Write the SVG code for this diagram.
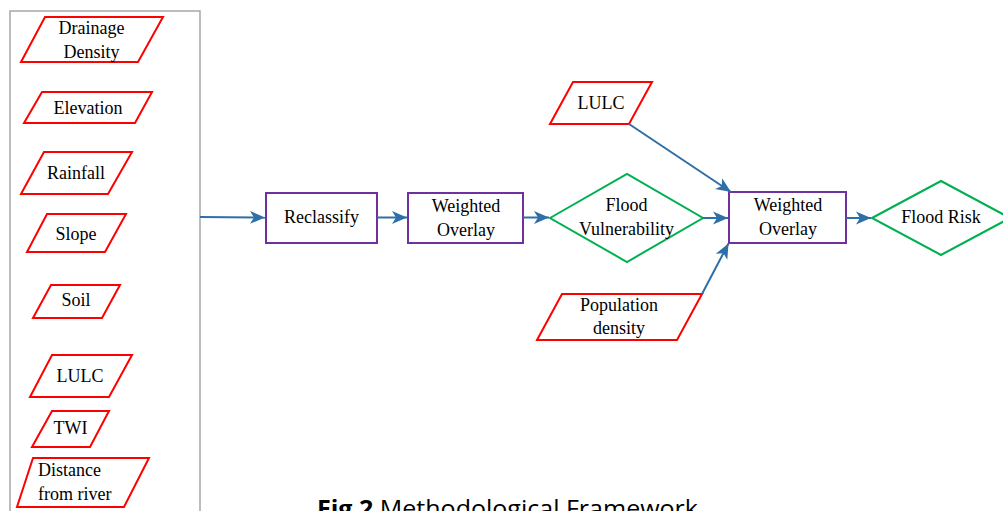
<svg xmlns="http://www.w3.org/2000/svg" width="1003" height="511" viewBox="0 0 1003 511">
<style>
.in{fill:#fff;stroke:#ff0000;stroke-width:2;stroke-linejoin:miter}
.pr{fill:#fff;stroke:#7030a0;stroke-width:2}
.dm{fill:#fff;stroke:#00b050;stroke-width:2}
.t{font-family:"Liberation Serif","Times New Roman",serif;font-size:18px;fill:#000;text-anchor:middle}
.tl{text-anchor:start}
.c{fill:none;stroke:#2e6fa7;stroke-width:2}
</style>
<defs>
<marker id="ah" markerUnits="userSpaceOnUse" viewBox="0 0 15 14" refX="15" refY="7" markerWidth="15" markerHeight="14" orient="auto">
<path d="M0,0.5 L15,7 L0,13.5 L4,7 Z" fill="#2e6fa7"/>
</marker>
</defs>
<rect width="1003" height="511" fill="#fff"/>
<g id="inputs-box">
<rect x="10" y="11" width="190" height="520" fill="none" stroke="#a6a6a6" stroke-width="1.5"/>
</g>
<g id="drainage"><polygon class="in" points="45,17 163,17 138,62 21,62"/><text class="t" x="91.5" y="33.5">Drainage</text><text class="t" x="91.5" y="58">Density</text></g>
<g id="elevation"><polygon class="in" points="42,92 152,92 135,123 24,123"/><text class="t" x="88" y="113.5">Elevation</text></g>
<g id="rainfall"><polygon class="in" points="44,152 132,152 108,194 21,194"/><text class="t" x="76" y="178.5">Rainfall</text></g>
<g id="slope"><polygon class="in" points="47,214 126,214 105,252 27,252"/><text class="t" x="76" y="239.5">Slope</text></g>
<g id="soil"><polygon class="in" points="51,285 120,285 102,318 33,318"/><text class="t" x="76" y="305.5">Soil</text></g>
<g id="lulc-left"><polygon class="in" points="52,355 132,355 109,397 30,397"/><text class="t" x="80" y="381.5">LULC</text></g>
<g id="twi"><polygon class="in" points="52,411 109,411 90,447 32,447"/><text class="t" x="70.5" y="434">TWI</text></g>
<g id="distance"><polygon class="in" points="33,458 149,458 124,507 17,507"/><text class="t tl" x="38" y="475.5">Distance</text><text class="t tl" x="38" y="500">from river</text></g>
<g id="reclassify"><rect class="pr" x="266" y="193" width="111" height="50"/><text class="t" x="321.5" y="223">Reclassify</text></g>
<g id="weighted-overlay-1"><rect class="pr" x="408" y="193" width="115" height="50"/><text class="t" x="466" y="211.5">Weighted</text><text class="t" x="466" y="235.5">Overlay</text></g>
<g id="flood-vulnerability"><polygon class="dm" points="550,218 627,174 703,218 627,262"/><text class="t" x="626.5" y="211">Flood</text><text class="t" x="626.5" y="235">Vulnerability</text></g>
<g id="lulc-right"><polygon class="in" points="573,82 652,82 629,124 550,124"/><text class="t" x="601" y="109">LULC</text></g>
<g id="population"><polygon class="in" points="562,294 702,294 677,340 537,340"/><text class="t" x="619" y="310.5">Population</text><text class="t" x="619" y="334">density</text></g>
<g id="weighted-overlay-2"><rect class="pr" x="729" y="192" width="117" height="51"/><text class="t" x="788" y="211">Weighted</text><text class="t" x="788" y="235">Overlay</text></g>
<g id="flood-risk"><polygon class="dm" points="872,218 941,181 1010,218 941,255"/><text class="t" x="941" y="222.5">Flood Risk</text></g>
<g id="connectors">
<line class="c" x1="200" y1="217" x2="265" y2="217.5" marker-end="url(#ah)"/>
<line class="c" x1="377" y1="217.5" x2="407" y2="217.5" marker-end="url(#ah)"/>
<line class="c" x1="523" y1="217.5" x2="549" y2="217.5" marker-end="url(#ah)"/>
<line class="c" x1="703" y1="218" x2="728" y2="218" marker-end="url(#ah)"/>
<line class="c" x1="629" y1="124" x2="731" y2="192" marker-end="url(#ah)"/>
<line class="c" x1="702" y1="294" x2="728.5" y2="243.5" marker-end="url(#ah)"/>
<line class="c" x1="846" y1="218" x2="871" y2="218" marker-end="url(#ah)"/>
</g>
<text x="317" y="517" font-family="'Open Sans','Liberation Sans',sans-serif" font-size="23" fill="#000" textLength="381" lengthAdjust="spacingAndGlyphs"><tspan font-weight="bold">Fig 2</tspan> Methodological Framework</text>
</svg>
